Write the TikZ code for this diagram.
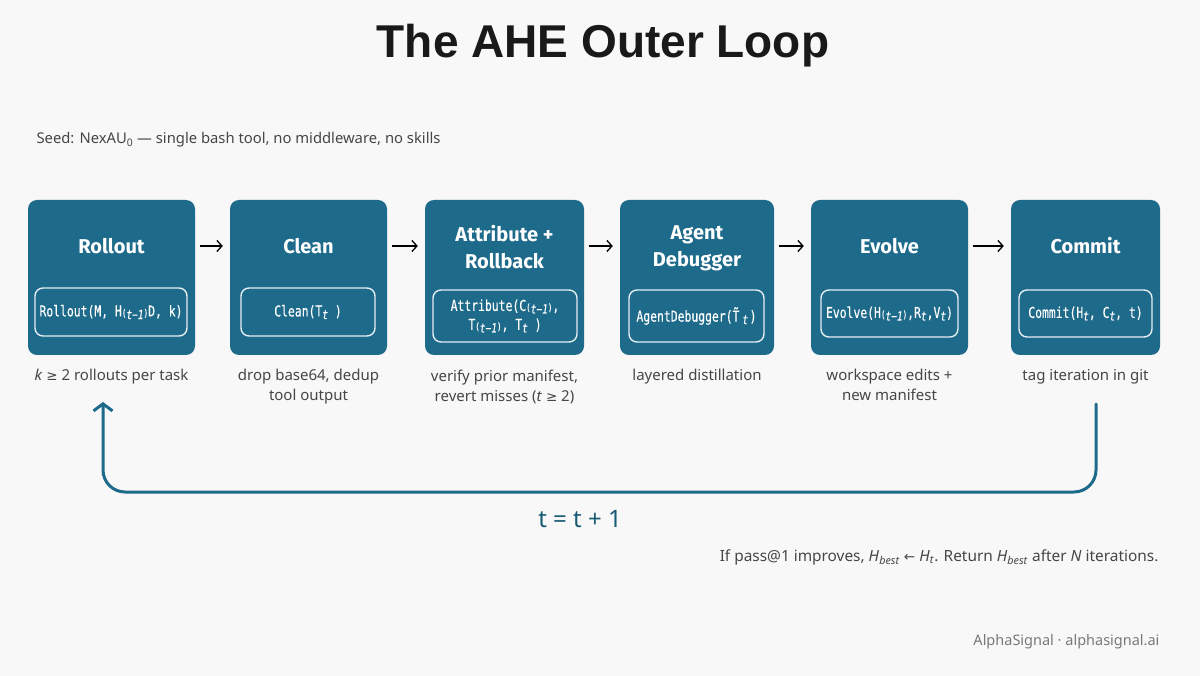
\documentclass[tikz,border=0pt]{standalone}
\usepackage{fontspec}
\setmainfont{Noto Sans}
\newfontfamily\titlefont{Liberation Sans}
\newfontfamily\boxfont{Fira Sans}
\newfontfamily\monof[FakeStretch=0.76,FakeBold=0.4]{DejaVu Sans Mono}
\newfontfamily\symf{DejaVu Sans}
\usetikzlibrary{arrows.meta,calc}
\definecolor{teal1}{RGB}{30,106,138}
\definecolor{bg}{RGB}{248,248,248}
\definecolor{capgray}{RGB}{70,70,70}
\definecolor{footgray}{RGB}{120,120,120}
\newcommand\sbs[1]{\raisebox{-2.6pt}{\fontsize{12.5}{12}\selectfont\itshape #1}}
\newcommand\sbp[1]{{\fontsize{10}{10}\selectfont #1}}
\newcommand\mygeq{{\symf\fontsize{13.5}{15}\selectfont ≥}}
\newcommand\mylarr{{\symf\fontsize{13.5}{15}\selectfont ←}}
\tikzset{
  box/.style={fill=teal1, rounded corners=9pt, inner sep=0pt},
  innerbox/.style={draw=white!88!teal1, line width=1.4pt, rounded corners=8pt, inner sep=0pt, text=white, align=center,
     font=\monof\fontsize{15}{19}\selectfont},
  ttl/.style={text=white, align=center, font=\boxfont\bfseries\fontsize{20}{27}\selectfont},
  captext/.style={text=capgray, align=center, font=\fontsize{15}{20}\selectfont},
  flow/.style={draw=black, line width=1.3pt, -{Straight Barb[length=5pt,width=11pt]}, shorten <=5pt, shorten >=7pt},
  loopline/.style={draw=teal1, line width=3pt, line cap=round, rounded corners=22pt, -{Straight Barb[length=7pt,width=19pt,line width=3pt]}}
}
\begin{document}
\begin{tikzpicture}[x=1pt,y=-1pt]
\path[fill=bg] (0,0) rectangle (1200,676);
\useasboundingbox (0,0) rectangle (1200,676);

\node[font=\titlefont\bfseries\fontsize{46}{50}\selectfont, text=black!90] (title) at (603,46) {The AHE Outer Loop};
\node[anchor=west, text=capgray, font=\fontsize{14.8}{18}\selectfont] (seed) at (33,140) {Seed: NexAU\textsubscript{0} — single bash tool, no middleware, no skills};

% boxes
\node[box, minimum width=167pt, minimum height=155pt] (b1) at (111.5,277.5) {};
\node[box, minimum width=157pt, minimum height=155pt] (b2) at (308.5,277.5) {};
\node[box, minimum width=159pt, minimum height=155pt] (b3) at (504.5,277.5) {};
\node[box, minimum width=154pt, minimum height=155pt] (b4) at (697,277.5) {};
\node[box, minimum width=157pt, minimum height=155pt] (b5) at (889.5,277.5) {};
\node[box, minimum width=149pt, minimum height=155pt] (b6) at (1085.5,277.5) {};

% titles
\node[ttl] (t1) at (111.5,246) {Rollout};
\node[ttl] (t2) at (308.5,246) {Clean};
\node[ttl] (t3) at (504.5,247) {Attribute +\\Rollback};
\node[ttl] (t4) at (697,248) {Agent\\Debugger};
\node[ttl] (t5) at (889.5,246) {Evolve};
\node[ttl] (t6) at (1085.5,246) {Commit};

% inner formula boxes
\node[innerbox, minimum width=152pt, minimum height=48pt] (f1) at (111,312) {Rollout(M, H\sbp{(}\sbs{t}\sbs{−1}\sbp{)}D, k)};
\node[innerbox, minimum width=134pt, minimum height=48pt] (f2) at (308,312) {Clean(T\sbs{t} )};
\node[innerbox, minimum width=144pt, minimum height=52pt] (f3) at (505,316) {Attribute(C\sbp{(}\sbs{t}\sbs{−1}\sbp{)},\\T\sbp{(}\sbs{t}\sbs{−1}\sbp{)}, T\sbs{t} )};
\node[innerbox, minimum width=135pt, minimum height=52pt] (f4) at (696.5,316) {AgentDebugger(\~{T}\kern3pt\sbs{t}\kern1.5pt)};
\node[innerbox, minimum width=137pt, minimum height=47pt] (f5) at (889.5,313.5) {Evolve(H\sbp{(}\sbs{t}\sbs{−1}\sbp{)},R\sbs{t},V\sbs{t})};
\node[innerbox, minimum width=133pt, minimum height=47pt] (f6) at (1085.5,313.5) {Commit(H\sbs{t}, C\sbs{t}, t)};

% flow arrows
\draw[flow] ([yshift=31.5pt]b1.east) -- ([yshift=31.5pt]b2.west);
\draw[flow] ([yshift=31.5pt]b2.east) -- ([yshift=31.5pt]b3.west);
\draw[flow] ([yshift=31.5pt]b3.east) -- ([yshift=31.5pt]b4.west);
\draw[flow] ([yshift=31.5pt]b4.east) -- ([yshift=31.5pt]b5.west);
\draw[flow] ([yshift=31.5pt]b5.east) -- ([yshift=31.5pt]b6.west);

% captions
\node[captext, anchor=north] (c1) at (111.5,366) {\textit{k} \mygeq{} 2 rollouts per task};
\node[captext, anchor=north] (c2) at (308.5,366) {drop base64, dedup\\tool output};
\node[captext, anchor=north] (c3) at (504.5,366) {verify prior manifest,\\revert misses (\textit{t} \mygeq{} 2)};
\node[captext, anchor=north] (c4) at (697,366) {layered distillation};
\node[captext, anchor=north] (c5) at (889.5,366) {workspace edits +\\new manifest};
\node[captext, anchor=north] (c6) at (1085.5,366) {tag iteration in git};

% loop
\coordinate (ls) at (1096,404);
\coordinate (le) at (103,402);
\coordinate (lb) at (600,492);
\draw[loopline] (ls) -- (ls |- lb) -- (le |- lb) -- (le);
\node[text=teal1!85!black, font=\fontsize{24}{28}\selectfont] (inc) at (580,519) {t = t + 1};

\node[anchor=east, text=capgray, font=\fontsize{15.4}{18}\selectfont] (note) at (1162,557) {If pass@1 improves, \textit{H}\textsubscript{\textit{best}} \mylarr{} \textit{H}\textsubscript{\textit{t}}. Return \textit{H}\textsubscript{\textit{best}} after \textit{N} iterations.};
\node[anchor=east, text=footgray, font=\fontsize{14.5}{18}\selectfont] (foot) at (1163,642) {AlphaSignal · alphasignal.ai};
\end{tikzpicture}
\end{document}
